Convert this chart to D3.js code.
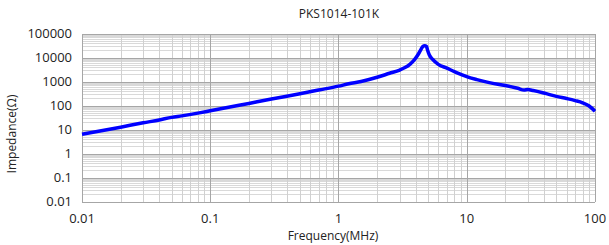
<!DOCTYPE html>
<html>
<head>
<meta charset="utf-8">
<script src="https://cdn.jsdelivr.net/npm/d3@7"></script>
<style>
  body { margin: 0; background: #fff; }
  svg text { font-family: "Open Sans", "Noto Sans", sans-serif; fill: #222; }
</style>
</head>
<body>
<div id="chart"></div>
<script>
// impedance curve
const freq = [0.01, 0.02, 0.03, 0.04, 0.05, 0.06, 0.08, 0.1, 0.2, 0.3, 0.5, 0.7, 1.0, 1.2, 1.5, 2.0, 2.5, 3.0, 3.3, 3.6, 3.9, 4.2, 4.4, 4.55, 4.7, 4.85, 4.95, 5.1, 5.4, 6.0, 7.0, 8.0, 9.0, 10, 12, 15, 20, 25, 28, 30, 33, 40, 50, 60, 70, 80, 90, 100];
const impedance = [6.3, 12.5, 19, 25, 32, 37, 48, 60, 122, 185, 310, 440, 640, 800, 1000, 1500, 2200, 3000, 3800, 5200, 8000, 14000, 22000, 29000, 31000, 29000, 20000, 13000, 8500, 5200, 3600, 2600, 2000, 1600, 1200, 900, 680, 520, 440, 460, 420, 330, 240, 195, 160, 130, 95, 58];

const xTicks = [0.01, 0.1, 1, 10, 100];
const xTickLabels = ['0.01', '0.1', '1', '10', '100'];
const yTicks = [0.01, 0.1, 1, 10, 100, 1000, 10000, 100000];
const yTickLabels = ['0.01', '0.1', '1', '10', '100', '1000', '10000', '100000'];

const title = 'PKS1014-101K';
const xTitle = 'Frequency(MHz)';
const yTitle = 'Impedance(\u03A9)';

const width = 609, height = 245;
const margin = { left: 82, right: 14, top: 33.5, bottom: 43.5 };

const svg = d3.select('#chart')
  .append('svg')
  .attr('width', width)
  .attr('height', height);

const x = d3.scaleLog()
  .domain([xTicks[0], xTicks[xTicks.length - 1]])
  .range([margin.left, width - margin.right]);

const y = d3.scaleLog()
  .domain([yTicks[0], yTicks[yTicks.length - 1]])
  .range([height - margin.bottom, margin.top]);

// minor grid (2..9 of each decade)
const minorX = [], minorY = [];
for (let i = 0; i < xTicks.length - 1; i++)
  for (let m = 2; m <= 9; m++) minorX.push(xTicks[i] * m);
for (let i = 0; i < yTicks.length - 1; i++)
  for (let m = 2; m <= 9; m++) minorY.push(yTicks[i] * m);

const grid = svg.append('g').attr('shape-rendering', 'crispEdges');

grid.selectAll('.minor-y')
  .data(minorY)
  .enter()
  .append('line')
    .attr('x1', margin.left).attr('x2', width - margin.right)
    .attr('y1', d => Math.round(y(d)) + 0.5).attr('y2', d => Math.round(y(d)) + 0.5)
    .attr('stroke', '#d9d9d9');

grid.selectAll('.minor-x')
  .data(minorX)
  .enter()
  .append('line')
    .attr('y1', margin.top).attr('y2', height - margin.bottom)
    .attr('x1', d => Math.round(x(d)) + 0.5).attr('x2', d => Math.round(x(d)) + 0.5)
    .attr('stroke', '#d0d0d0');

grid.selectAll('.major-y')
  .data(yTicks)
  .enter()
  .append('line')
    .attr('x1', margin.left).attr('x2', width - margin.right)
    .attr('y1', d => Math.round(y(d)) + 0.5).attr('y2', d => Math.round(y(d)) + 0.5)
    .attr('stroke', '#a6a6a6')
    .attr('stroke-width', 1.5);

grid.selectAll('.major-x')
  .data(xTicks)
  .enter()
  .append('line')
    .attr('y1', margin.top).attr('y2', height - margin.bottom)
    .attr('x1', d => Math.round(x(d)) + 0.5).attr('x2', d => Math.round(x(d)) + 0.5)
    .attr('stroke', '#a6a6a6')
    .attr('stroke-width', 1.5);

// tick labels
svg.append('g')
  .selectAll('text')
  .data(yTicks)
  .enter()
  .append('text')
    .attr('x', margin.left - 10)
    .attr('y', d => y(d))
    .attr('dy', '0.35em')
    .attr('text-anchor', 'end')
    .style('font-size', '13px')
    .text((d, i) => yTickLabels[i]);

svg.append('g')
  .selectAll('text')
  .data(xTicks)
  .enter()
  .append('text')
    .attr('x', d => x(d))
    .attr('y', 223)
    .attr('text-anchor', 'middle')
    .style('font-size', '13px')
    .text((d, i) => xTickLabels[i]);

// titles
svg.append('text')
  .attr('x', 339)
  .attr('y', 18)
  .attr('text-anchor', 'middle')
  .style('font-size', '12px')
  .text(title);

svg.append('text')
  .attr('x', 333)
  .attr('y', 239.5)
  .attr('text-anchor', 'middle')
  .style('font-size', '12px')
  .text(xTitle);

svg.append('text')
  .attr('transform', 'rotate(-90)')
  .attr('x', -134)
  .attr('y', 16)
  .attr('text-anchor', 'middle')
  .style('font-size', '12px')
  .text(yTitle);

// curve
const line = d3.line()
  .x((d, i) => x(freq[i]))
  .y(d => y(d))
  .curve(d3.curveMonotoneX);

svg.append('path')
  .datum(impedance)
  .attr('d', line)
  .attr('fill', 'none')
  .attr('stroke', '#0000ff')
  .attr('stroke-width', 3.5)
  .attr('stroke-linejoin', 'round');
</script>
</body>
</html>
